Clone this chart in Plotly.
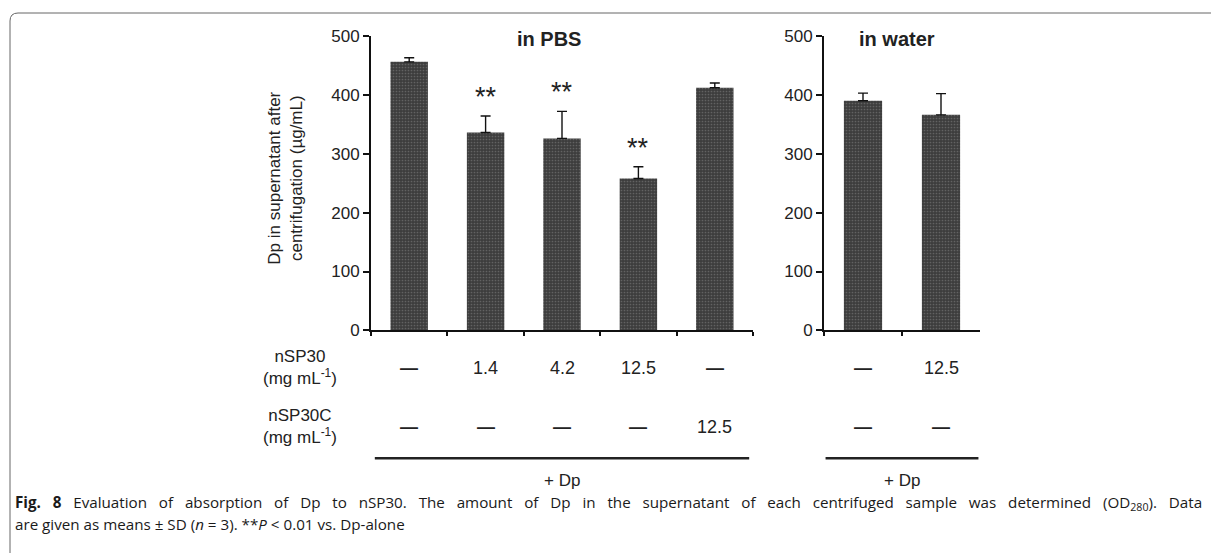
import plotly.graph_objects as go

# ---------------- data ----------------
pbs_categories = ["Dp", "Dp+nSP30 1.4", "Dp+nSP30 4.2", "Dp+nSP30 12.5", "Dp+nSP30C 12.5"]
pbs_means = [456, 336, 326, 258, 412]
pbs_sd = [7, 28, 46, 20, 8]
pbs_signif = ["", "**", "**", "**", ""]
pbs_nsp30 = ["—", "1.4", "4.2", "12.5", "—"]
pbs_nsp30c = ["—", "—", "—", "—", "12.5"]

water_categories = ["Dp (water)", "Dp+nSP30 12.5 (water)"]
water_means = [390, 366]
water_sd = [13, 36]
water_nsp30 = ["—", "12.5"]
water_nsp30c = ["—", "—"]

y_ticks = [0, 100, 200, 300, 400, 500]
panel_titles = ["in PBS", "in water"]
y_title = "Dp in supernatant after<br>centrifugation (µg/mL)"
row_labels = ["nSP30<br>(mg mL<sup>-1</sup>)", "nSP30C<br>(mg mL<sup>-1</sup>)"]
group_label = "+ Dp"
caption_1 = ("<b>Fig. 8</b> Evaluation of absorption of Dp to nSP30. The amount of Dp in the supernatant "
             "of each centrifuged sample was determined (OD<sub>280</sub>). Data")
caption_2 = "are given as means ± SD (<i>n</i> = 3). **<i>P</i> &lt; 0.01 vs. Dp-alone"

# ---------------- figure geometry ----------------
# empirical mapping of figure pixels to the photographed window
OX = 8            # horizontal offset (body margin)
OY, SY = 16, 0.967  # vertical offset and scale of the capture
W, H = 1203, 545
FONT = "Liberation Sans, Arial, sans-serif"
BAR_COLOR = "#3d3d3d"


def py(sy):
    """target screen y pixel -> paper fraction"""
    return 1 - ((sy - OY) / SY) / H


def pxx(sx):
    """target screen x pixel -> paper fraction"""
    return (sx - OX) / W


fig = go.Figure()

bar_style = dict(
    marker=dict(color=BAR_COLOR, line=dict(width=0),
                pattern=dict(shape=".", fgcolor="#8a8a8a", size=3, solidity=0.25, fillmode="overlay")),
    width=0.49, showlegend=False, hoverinfo="skip",
)
err_style = dict(type="data", symmetric=False, color="#111", thickness=1.4, width=5)

fig.add_trace(go.Bar(x=pbs_categories, y=pbs_means, xaxis="x", yaxis="y",
                     error_y=dict(array=pbs_sd, arrayminus=[0] * len(pbs_sd), **err_style),
                     **bar_style))
fig.add_trace(go.Bar(x=water_categories, y=water_means, xaxis="x2", yaxis="y2",
                     error_y=dict(array=water_sd, arrayminus=[0] * len(water_sd), **err_style),
                     **bar_style))

ydom = [py(330), py(35)]
yaxis_common = dict(
    range=[0, 500], tickvals=y_ticks, ticks="outside", ticklen=6, tickwidth=2, tickcolor="#111",
    showline=True, linecolor="#111", linewidth=2, showgrid=False, zeroline=False,
    tickfont=dict(family=FONT, size=17, color="#222"), domain=ydom, fixedrange=True,
)
xaxis_common = dict(
    showline=True, linecolor="#111", linewidth=2, ticks="outside", tickson="boundaries",
    ticklen=4, tickwidth=2, tickcolor="#111", showticklabels=False, showgrid=False,
)

fig.update_layout(
    width=W, height=H, autosize=False,
    margin=dict(l=0, r=0, t=0, b=0),
    paper_bgcolor="white", plot_bgcolor="white",
    xaxis=dict(domain=[pxx(371), pxx(753)], anchor="y", **xaxis_common),
    yaxis=dict(anchor="x", **yaxis_common),
    xaxis2=dict(domain=[pxx(824), pxx(980)], anchor="y2", **xaxis_common),
    yaxis2=dict(anchor="x2", **yaxis_common),
    font=dict(family=FONT, color="#222"),
)

ann = []
# panel titles
ann.append(dict(text="<b>" + panel_titles[0] + "</b>", xref="paper", yref="paper",
                x=pxx(549), y=py(38), xanchor="center", yanchor="middle",
                font=dict(size=20, family=FONT, color="#222"), showarrow=False))
ann.append(dict(text="<b>" + panel_titles[1] + "</b>", xref="paper", yref="paper",
                x=pxx(897), y=py(38), xanchor="center", yanchor="middle",
                font=dict(size=20, family=FONT, color="#222"), showarrow=False))
# y title
ann.append(dict(text=y_title, xref="paper", yref="paper", x=pxx(286), y=py(178),
                xanchor="center", yanchor="middle", textangle=-90, showarrow=False,
                font=dict(size=17, family=FONT, color="#222")))
# significance
for c, m, s, t in zip(pbs_categories, pbs_means, pbs_sd, pbs_signif):
    if t:
        ann.append(dict(text=t, xref="x", yref="y", x=c, y=m + s, yanchor="bottom",
                        xanchor="center", yshift=2, showarrow=False,
                        font=dict(size=27, family=FONT, color="#222")))


# table rows
def cell(text, xref, xval, sy):
    dash = text == "—"
    return dict(text="<b>—</b>" if dash else text, xref=xref, yref="paper", x=xval, y=py(sy),
                xanchor="center", yanchor="middle", showarrow=False,
                font=dict(size=18, family=FONT, color="#222"))


for c, a, b in zip(pbs_categories, pbs_nsp30, pbs_nsp30c):
    ann.append(cell(a, "x", c, 368))
    ann.append(cell(b, "x", c, 427))
for c, a, b in zip(water_categories, water_nsp30, water_nsp30c):
    ann.append(cell(a, "x2", c, 368))
    ann.append(cell(b, "x2", c, 427))

# row labels
ann.append(dict(text=row_labels[0], xref="paper", yref="paper", x=pxx(300), y=py(367),
                xanchor="center", yanchor="middle", showarrow=False,
                font=dict(size=17, family=FONT, color="#222")))
ann.append(dict(text=row_labels[1], xref="paper", yref="paper", x=pxx(300), y=py(426),
                xanchor="center", yanchor="middle", showarrow=False,
                font=dict(size=17, family=FONT, color="#222")))

# + Dp labels
for xr in ["x domain", "x2 domain"]:
    ann.append(dict(text=group_label, xref=xr, yref="paper", x=0.5, y=py(480),
                    xanchor="center", yanchor="middle", showarrow=False,
                    font=dict(size=17, family=FONT, color="#222")))

# caption (justified in the original: widen word gaps on the first line)
CAP_FONT = "Open Sans, Noto Sans, sans-serif"
ann.append(dict(text=caption_1.replace(" ", "   "), xref="paper", yref="paper", x=pxx(13), y=py(503),
                xanchor="left", yanchor="middle", showarrow=False,
                font=dict(size=15.2, family=CAP_FONT, color="#1a1a1a")))
ann.append(dict(text=caption_2, xref="paper", yref="paper", x=pxx(13), y=py(524),
                xanchor="left", yanchor="middle", showarrow=False,
                font=dict(size=15.2, family=CAP_FONT, color="#1a1a1a")))

fig.update_layout(annotations=ann)

shapes = []
# group lines under the table
for xr in ["x domain", "x2 domain"]:
    shapes.append(dict(type="line", xref=xr, yref="paper", x0=0.01, x1=0.99,
                       y0=py(458), y1=py(458), line=dict(color="#222", width=2.5)))
# figure frame (rounded top-left corner)
fx, fy, r = 10, 12, 8
path = (f"M {pxx(fx)},{py(620)} L {pxx(fx)},{py(fy + r)} "
        f"Q {pxx(fx)},{py(fy)} {pxx(fx + r)},{py(fy)} L {pxx(1230)},{py(fy)}")
shapes.append(dict(type="path", xref="paper", yref="paper", path=path,
                   line=dict(color="#666", width=1)))
fig.update_layout(shapes=shapes)

fig.write_html("out.html")
